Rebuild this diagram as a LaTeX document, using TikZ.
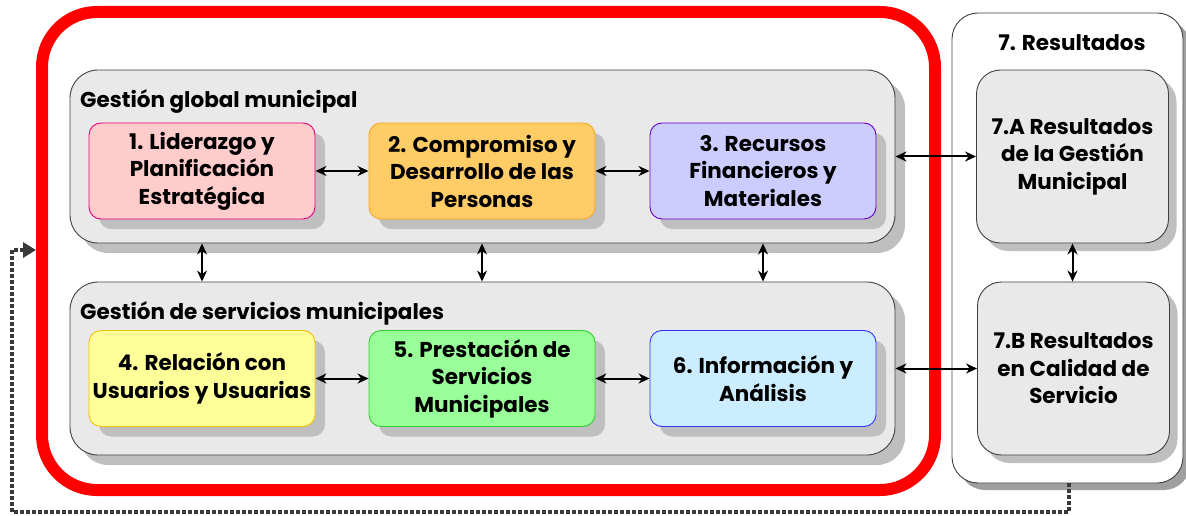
\documentclass[tikz,border=0pt]{standalone}
\usepackage{fontspec}
\setmainfont{Poppins}
\usetikzlibrary{arrows.meta,shadows}
\definecolor{panel}{HTML}{E9E9E9}
\definecolor{shad}{HTML}{BFBFBF}
\definecolor{edge}{HTML}{404040}
\definecolor{f1}{HTML}{FFCCCC}\definecolor{d1}{HTML}{E6007E}
\definecolor{f2}{HTML}{FFCC66}\definecolor{d2}{HTML}{F5A623}
\definecolor{f3}{HTML}{CCCCFF}\definecolor{d3}{HTML}{6600CC}
\definecolor{f4}{HTML}{FFFF99}\definecolor{d4}{HTML}{F2C200}
\definecolor{f5}{HTML}{99FF99}\definecolor{d5}{HTML}{33CC33}
\definecolor{f6}{HTML}{CCECFF}\definecolor{d6}{HTML}{3333FF}
\definecolor{dots}{HTML}{3A3A3A}
\begin{document}
\begin{tikzpicture}[x=1pt,y=-1pt,
  txt/.style={font=\bfseries\fontsize{21.5}{27.5}\selectfont},
  group/.style={draw=edge, line width=0.9pt, fill=panel, rounded corners=28pt,
    inner sep=0pt, drop shadow={shadow xshift=10pt,shadow yshift=-10pt,fill=shad,opacity=1}},
  crit/.style={txt, line width=0.9pt, rounded corners=12pt, inner sep=0pt, align=center,
    minimum width=226pt, minimum height=96pt,
    drop shadow={shadow xshift=10pt,shadow yshift=-10pt,fill=shad,opacity=1}},
  resbox/.style={txt, draw=edge, line width=0.9pt, fill=panel, rounded corners=24pt,
    inner sep=0pt, align=center, minimum width=192pt, minimum height=173pt,
    drop shadow={shadow xshift=8pt,shadow yshift=-8pt,fill=shad,opacity=1}},
  biarrow/.style={line width=2pt, {Stealth[length=11pt,width=10pt]}-{Stealth[length=11pt,width=10pt]}},
  dotline/.style={draw=dots, line width=4.5pt, dash pattern=on 3.5pt off 2.5pt,
    -{Triangle[length=13pt,width=15pt,fill=dots]}}
]
\useasboundingbox (0,0) rectangle (1186,516);

% results container
\node[draw=edge, line width=0.9pt, fill=white, rounded corners=26pt, inner sep=0pt,
  minimum width=231pt, minimum height=470pt,
  drop shadow={shadow xshift=7pt,shadow yshift=-7pt,fill=gray!75,opacity=1}]
  (res) at (1067.5,248) {};
\node[txt, anchor=base] (restitle) at (1072,51) {7. Resultados};

% red boundary
\node[draw=red, line width=12pt, rounded corners=55pt, inner sep=0pt,
  minimum width=893pt, minimum height=478pt] (red) at (488.5,251) {};

% group panels
\node[group, minimum width=825pt, minimum height=173pt] (gg) at (482.5,156.5) {};
\node[txt, anchor=base west, inner sep=0pt] (ggl) at (80,108) {Gestión global municipal};
\node[group, minimum width=825pt, minimum height=173pt] (gs) at (482.5,368.5) {};
\node[txt, anchor=base west, inner sep=0pt] (gsl) at (80,319) {Gestión de servicios municipales};

% criteria
\node[crit, draw=d1, fill=f1] (c1) at (202,171) {1. Liderazgo y\\Planificación\\Estratégica};
\node[crit, draw=d2, fill=f2] (c2) at (482,171) {2. Compromiso y\\Desarrollo de las\\Personas};
\node[crit, draw=d3, fill=f3] (c3) at (763,171) {3. Recursos\\Financieros y\\Materiales};
\node[crit, draw=d4, fill=f4] (c4) at (202,378.5) {4. Relación con\\Usuarios y Usuarias};
\node[crit, draw=d5, fill=f5] (c5) at (482,378.5) {5. Prestación de\\Servicios\\Municipales};
\node[crit, draw=d6, fill=f6] (c6) at (763,378.5) {6. Información y\\Análisis};

% results boxes
\node[resbox] (ra) at (1072.5,156.5) {7.A Resultados\\de la Gestión\\Municipal};
\node[resbox] (rb) at (1073.5,368.5) {7.B Resultados\\en Calidad de\\Servicio};

% arrows
\draw[biarrow] (c1.east) -- (c2.west);
\draw[biarrow] (c2.east) -- (c3.west);
\draw[biarrow] (c4.east) -- (c5.west);
\draw[biarrow] (c5.east) -- (c6.west);
\draw[biarrow] (c1 |- gg.south) -- (c1 |- gs.north);
\draw[biarrow] (c2 |- gg.south) -- (c2 |- gs.north);
\draw[biarrow] (c3 |- gg.south) -- (c3 |- gs.north);
\draw[biarrow] (gg.east) -- (ra.west);
\draw[biarrow] (gs.east) -- (rb.west);
\draw[biarrow] (ra.south) -- (ra.south |- rb.north);

% dotted feedback loop
\coordinate (dl) at (12,512);
\coordinate (entry) at (red.west |- 0,250);
\draw[dotline] ([xshift=1.5pt]res.south) -- ([xshift=1.5pt]res.south |- dl) -- (dl) -- (dl |- entry) -- (entry);
\end{tikzpicture}
\end{document}
